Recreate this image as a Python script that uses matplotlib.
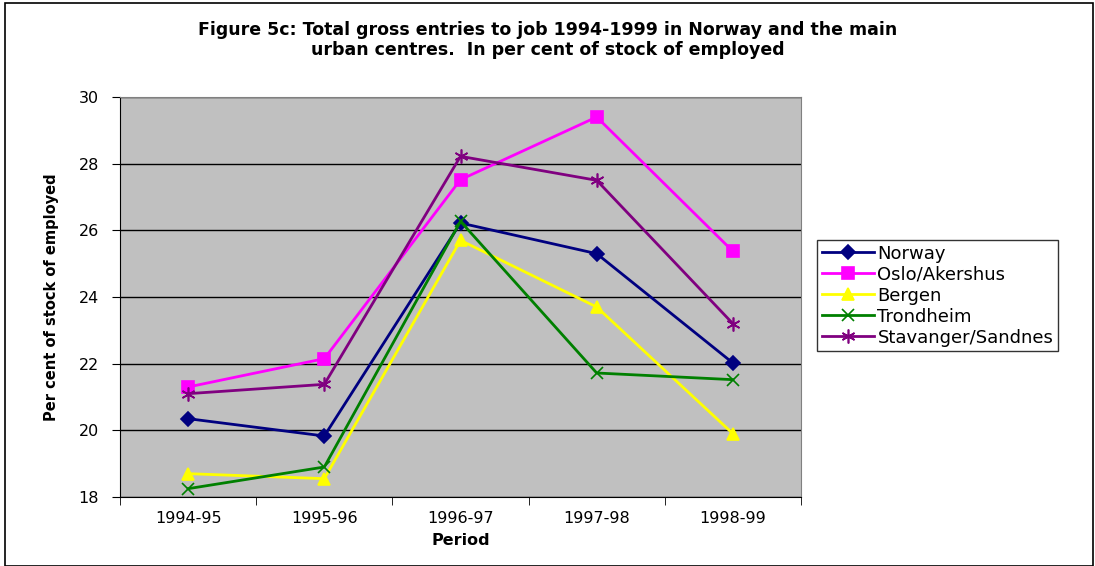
import matplotlib
matplotlib.use('Agg')
import matplotlib.pyplot as plt
from matplotlib.patches import Rectangle
import numpy as np

periods = ['1994-95', '1995-96', '1996-97', '1997-98', '1998-99']
norway = [20.35, 19.83, 26.22, 25.3, 22.02]
oslo = [21.3, 22.15, 27.52, 29.4, 25.37]
bergen = [18.7, 18.55, 25.7, 23.7, 19.9]
trondheim = [18.25, 18.9, 26.27, 21.72, 21.52]
stavanger = [21.1, 21.38, 28.22, 27.5, 23.2]

series = [
    ('Norway', norway, '#000080', 'D', 7),
    ('Oslo/Akershus', oslo, '#FF00FF', 's', 8),
    ('Bergen', bergen, '#FFFF00', '^', 9),
    ('Trondheim', trondheim, '#008000', 'x', 9),
    ('Stavanger/Sandnes', stavanger, '#800080', (6, 2, 0), 10),
]

plt.rcParams['font.family'] = ['DejaVu Sans']

fig = plt.figure(figsize=(10.95, 5.66), dpi=100)
ax = fig.add_axes([120 / 1095, 1 - 497 / 566, 681 / 1095, 400 / 566])
ax.set_facecolor('#C0C0C0')

x = np.arange(len(periods))
for name, vals, col, mk, ms in series:
    ax.plot(x, vals, color=col, lw=2, marker=mk, markersize=ms,
            markeredgecolor=col, markerfacecolor=col, markeredgewidth=1.2,
            label=name, clip_on=False)

ax.set_xlim(-0.5, len(periods) - 0.5)
ax.set_ylim(18, 30)
ax.set_yticks(np.arange(18, 31, 2))
ax.yaxis.grid(True, color='black', lw=1)
ax.set_axisbelow(True)
ax.set_xticks(x)
ax.set_xticklabels(periods, fontsize=11.5)
ax.set_xticks(np.arange(-0.5, len(periods), 1), minor=True)
ax.tick_params(axis='x', which='major', length=0, pad=10)
ax.tick_params(axis='x', which='minor', length=6, direction='out', color='black')
ax.tick_params(axis='y', length=6, direction='out', labelsize=11.5, pad=9)

for s in ['top', 'right']:
    ax.spines[s].set_color('#808080')
for s in ['left', 'bottom']:
    ax.spines[s].set_color('black')

ax.set_xlabel('Period', fontsize=11.5, fontweight='bold', labelpad=5)
ax.set_ylabel('Per cent of stock of employed', fontsize=10.5, fontweight='bold',
              labelpad=14)

fig.text(0.5, 1 - 40 / 566, 'Figure 5c: Total gross entries to job 1994-1999 in Norway and the main\n'
         'urban centres.  In per cent of stock of employed',
         ha='center', va='center', fontsize=12.5, fontweight='bold', linespacing=1.15)

leg = ax.legend(loc='upper left', bbox_to_anchor=(817 / 1095, 1 - 240 / 566),
                bbox_transform=fig.transFigure, frameon=True, fancybox=False,
                fontsize=13, handlelength=2.9, borderpad=0.25, labelspacing=0.17,
                handletextpad=0.2, borderaxespad=0)
leg.get_frame().set_edgecolor('black')
leg.get_frame().set_linewidth(1)

fig.patches.append(Rectangle((5 / 1095, 0), 1088 / 1095, 1 - 3 / 566, transform=fig.transFigure,
                             fill=False, edgecolor='black', lw=1.2))

fig.savefig('out.png', dpi=100)
